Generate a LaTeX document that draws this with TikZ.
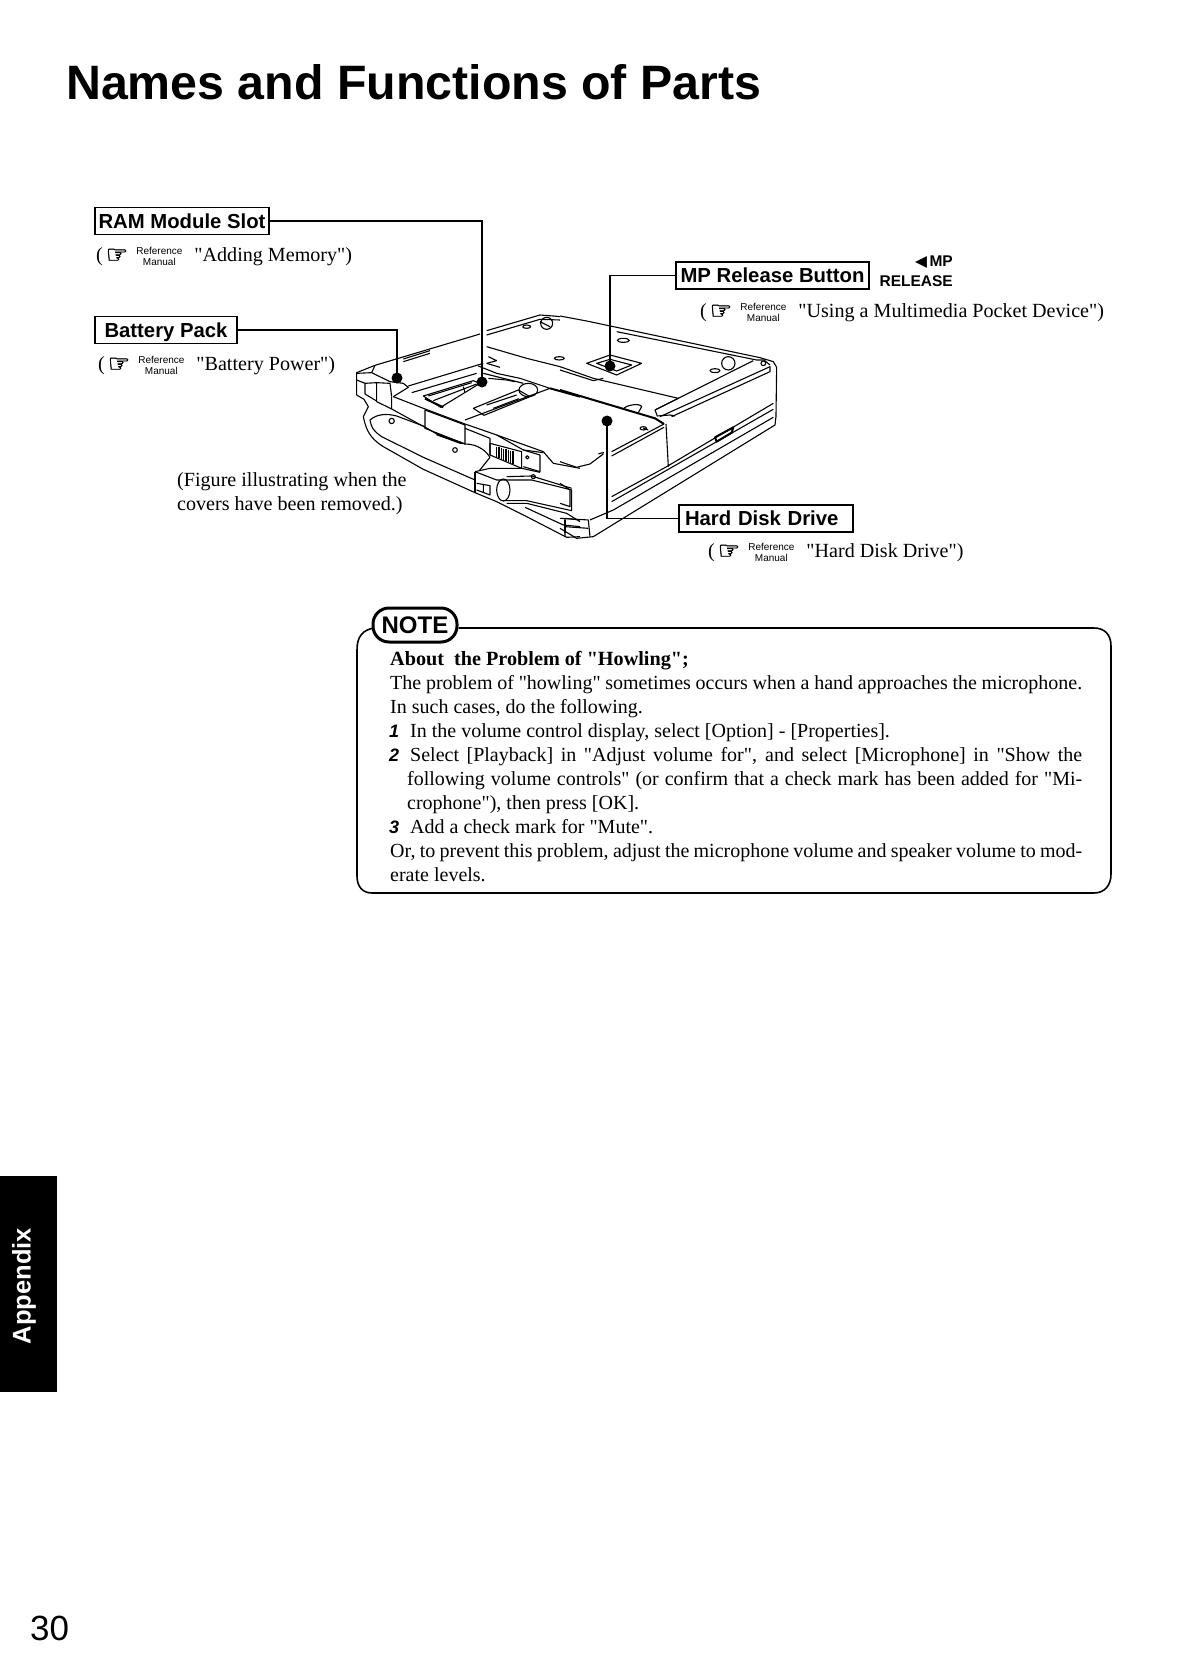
\documentclass[tikz,border=0pt]{standalone}
\usepackage{fontspec}
\newfontfamily\ser{Liberation Serif}
\newfontfamily\hei{Liberation Sans}
\newfontfamily\djvb[FakeBold=2]{DejaVu Sans}
\newfontfamily\djv{DejaVu Sans}
\newcommand{\refmark}{(\hspace{3pt}{\djvb\fontsize{25}{25}\selectfont\raisebox{-2pt}{☞}}\hspace{8pt}\raisebox{-4pt}{\hei\fontsize{10}{11.5}\selectfont\shortstack[c]{Reference\\Manual}}\hspace{12pt}}
\newcommand{\full}[2]{\makebox[#1pt][s]{#2}}
\tikzset{x=1pt,y=-1pt,
 lab/.style={draw=black,line width=1.3pt,font=\hei\bfseries\fontsize{20.3}{20.3}\selectfont,minimum height=27pt,inner xsep=2pt,inner ysep=0pt,text height=15pt,text depth=1pt},
 txt/.style={anchor=base west,inner sep=0pt,font=\ser\fontsize{20.1}{22}\selectfont},
 notetxt/.style={anchor=base west,inner sep=0pt,font=\ser\fontsize{20}{22}\selectfont},
 num/.style={anchor=base west,inner sep=0pt,font=\hei\bfseries\itshape\fontsize{18}{22}\selectfont},
 conn/.style={line width=1.8pt,black},
 dotm/.style={circle,fill=black,minimum size=11pt,inner sep=0pt},
 lp/.style={line width=1.1pt,black,line join=round},
 lpt/.style={line width=2pt,black,line join=round},
}
\begin{document}
\begin{tikzpicture}
\useasboundingbox (0,0) rectangle (1178,1672);
\fill[white] (0,0) rectangle (1178,1672);
\node[anchor=base west,inner sep=0pt,font=\hei\bfseries\fontsize{48.3}{48}\selectfont] (title) at (66,100) {Names and Functions of Parts};

% laptop: top, traced in the 320,290 crop
\begin{scope}[shift={(320,290)},x=.3333pt,y=-.3333pt]
\draw[lp] (165,226) -- (480,132);
\draw[lp] (250,207) -- (330,182) (250,215) -- (330,190);
\draw[lp] (500,122) -- (660,75) -- (700,78) -- (720,80);
\draw[lp] (500,135) -- (660,88) -- (720,90);
\draw[lp] (660,95) -- (690,110) (680,100) circle[radius=18];
\draw[lp] (620,110) ellipse[x radius=12,y radius=5] (718,205) ellipse[x radius=15,y radius=5];
\draw[lp] (500,170) -- (620,205) -- (720,230);
\draw[lp] (500,220) -- (540,232);
\end{scope}

% laptop: left and front, traced in the 340,340 crop
\begin{scope}[shift={(340,340)},x=.3333pt,y=-.3333pt]
% outer left contour
\draw[lp] (105,76) -- (50,98) -- (50,165) -- (72,178) -- (85,200) -- (70,230) .. controls (78,270) and (90,295) .. (130,320) -- (250,388) -- (405,458) -- (470,485) -- (560,530) -- (680,592) -- (720,590);
\draw[lp] (50,120) -- (75,130) -- (75,162) -- (108,182);
\draw[lp] (75,130) -- (110,128) -- (110,185) -- (155,207) -- (155,170);
\draw[lp] (50,100) -- (95,98) -- (150,125) -- (190,130) -- (205,142) -- (160,170);
\draw[lp] (110,128) -- (150,130) -- (155,170);
\draw[lp] (95,98) -- (105,76);
% upper strip
\draw[lp] (160,170) -- (250,205) -- (375,252) -- (450,278) -- (470,285) -- (610,335) -- (640,370) -- (720,385);
\draw[lp] (155,207) -- (255,262);
\draw[lp] (375,265) -- (450,295) -- (450,345);
% RAM area
\draw[lp] (205,138) -- (430,70);
\draw[lp] (215,158) -- (410,100);
\draw[lp] (250,168) -- (400,122) -- (420,130) -- (302,202) -- cycle;
\draw[lp] (265,168) -- (395,128) (280,182) -- (410,132);
\draw[lpt] (255,176) -- (310,202);
\draw[lp] (370,140) -- (375,158);
\draw[lp] (400,205) -- (535,150) -- (570,170) -- (432,226) -- cycle;
\draw[lp] (440,195) -- (530,165) (460,205) -- (537,176);
\draw[lp] (565,150) ellipse[x radius=28,y radius=20];
\draw[lp] (375,240) -- (630,145) -- (540,115) -- (470,100) -- (415,78);
\draw[lp] (430,100) -- (550,130);
\draw[lp] (445,50) -- (470,62) -- (440,70);
\draw[lp] (445,115) -- (500,120) -- (525,125);
\draw[lpt] (630,145) -- (720,170);
% handle contour
\draw[lp] (90,240) .. controls (110,222) and (140,220) .. (170,228) -- (250,258) -- (290,282) -- (375,312) .. controls (415,312) and (440,335) .. (450,352) -- (418,392);
\draw[lp] (90,240) .. controls (95,265) and (100,272) .. (125,290) -- (250,352) -- (405,420);
\draw[lp] (155,243) circle[radius=8] (345,330) circle[radius=7];
% window
\draw[lp] (255,210) -- (375,255) -- (375,312) -- (255,265) -- cycle;
\draw[lpt] (290,283) -- (365,310);
% vent
\draw[lp] (450,310) -- (545,335) -- (545,385) -- (450,345) -- cycle;
\foreach \i in {0,...,7} \draw[lp] ({470+\i*7},{320+\i*2}) -- ({470+\i*7},{352+\i*3});
\draw[lp] (470,285) -- (550,330) -- (600,345) -- (600,395) -- (550,380);
\draw[lp] (550,330) -- (610,338) (562,352) circle[radius=5];
% lever
\draw[lp] (405,395) -- (450,385) -- (545,385) -- (600,397);
\draw[lp] (405,395) -- (405,458);
\draw[lp] (410,430) -- (450,437) -- (450,465) -- (410,450) (430,433) -- (430,457);
\draw[lp] (405,395) -- (470,420) -- (490,420);
\draw[lp] (490,420) -- (575,420) -- (695,450) -- (695,512) -- (560,482) -- (490,482);
\draw[lp] (500,410) -- (575,408) -- (695,445);
\draw[lp] (580,410) circle[radius=6];
\draw[lp] (490,450) ellipse[x radius=20,y radius=33];
\draw[lp] (500,490) -- (560,490) -- (680,520) -- (720,545);
\draw[lp] (555,502) -- (670,555) -- (720,560);
\draw[lp] (675,535) -- (675,590) (675,535) -- (720,540);
\end{scope}

% laptop: right, traced in the 560,310 crop
\begin{scope}[shift={(560,310)},x=.3333pt,y=-.3333pt]
\draw[lp] (0,18) -- (80,33) -- (170,52) -- (600,143) -- (640,155) -- (650,172) -- (648,320) -- (645,345) -- (165,640) -- (100,680) -- (50,685) -- (0,655);
\draw[lp] (170,65) -- (590,150) -- (612,150) -- (630,165);
\draw[lp] (610,160) circle[radius=7];
\draw[lp] (285,300) -- (580,152);
\draw[lp] (300,320) -- (630,170) -- (630,185) -- (335,320);
\draw[lp] (285,300) -- (292,318) -- (330,315) -- (345,318);
\draw[lpt] (0,240) -- (285,325) -- (312,342);
\draw[lp] (0,170) -- (100,205) -- (355,265) -- (285,300);
\draw[lp] (0,180) -- (100,212) -- (130,205);
\draw[lp] (190,298) .. controls (195,285) and (240,278) .. (245,290) -- (235,308);
\draw[lp] (80,160) -- (150,135) -- (245,160) -- (170,195) -- cycle;
\draw[lp] (110,160) -- (150,148) -- (215,165) -- (170,183) -- cycle;
\draw[lp] (505,160) circle[radius=20] (465,182) ellipse[x radius=15,y radius=6];
\draw[lp] (190,91) ellipse[x radius=18,y radius=6];
\draw[lp] (318,342) -- (325,470);
\draw[lp] (312,342) -- (155,425) (312,352) -- (155,438);
\draw[lp] (250,355) -- (265,360) (250,355) ellipse[x radius=10,y radius=5];
\draw[lp] (640,280) -- (320,470) -- (155,560);
\draw[lp] (640,298) -- (155,575);
\draw[lp] (640,322) -- (160,600) -- (90,630);
\draw[lpt] (465,382) -- (520,352) -- (515,368) -- (470,395) -- cycle;
\draw[lp] (0,455) -- (50,472) -- (90,462) -- (130,432) (115,432) .. controls (120,430) and (125,428) .. (132,428);
\draw[lp] (0,520) -- (30,540) -- (30,590) -- (0,580);
\draw[lp] (0,625) -- (85,630) -- (90,680);
\draw[lp] (15,630) -- (15,670);
\draw[lp] (15,650) -- (85,655);
\end{scope}

% labels
\node[lab,minimum width=174pt] (ram) at (182,221) {RAM Module Slot};
\node[lab,minimum width=142pt] (bat) at (166,330) {Battery Pack};
\node[lab,minimum width=193pt] (mp) at (772.5,275.5) {MP Release Button};
\node[lab,text width=162pt,align=left,inner xsep=6pt] (hdd) at (766,518.5) {Hard Disk Drive};

\node[dotm] (ramdot) at (482,382) {};
\node[dotm] (batdot) at (397,378) {};
\node[dotm] (mpdot) at (610,366) {};
\node[dotm] (hdddot) at (607,421) {};
\draw[conn] (ram.east) -| (ramdot.center);
\draw[conn] (bat.east) -| (batdot.center);
\draw[conn] (mp.west) -| (mpdot.center);
\draw[conn] (hdd.west) -| (hdddot.center);

\node[txt] (t1) at (96,261) {\refmark"Adding Memory")};
\node[txt] (t2) at (98,370) {\refmark"Battery Power")};
\node[txt] (t3) at (700,317) {\refmark"Using a Multimedia Pocket Device")};
\node[txt] (t4) at (708,557) {\refmark"Hard Disk Drive")};
\node[txt] (c1) at (177,486) {(Figure illustrating when the};
\node[txt] (c2) at (177,510) {covers have been removed.)};
\node[anchor=base east,inner sep=0pt,font=\hei\bfseries\fontsize{15.5}{15.5}\selectfont] (mp1) at (953,266) {{\djv ◀}\,MP};
\node[anchor=base east,inner sep=0pt,font=\hei\bfseries\fontsize{15.5}{15.5}\selectfont] (mp2) at (953,286) {RELEASE};

% note
\node[draw=black,line width=3pt,rounded corners=16pt,minimum width=84pt,minimum height=34pt,inner sep=0pt,font=\hei\bfseries\fontsize{24}{24}\selectfont] (note) at (415,625) {NOTE};
\draw[line width=1.6pt,black] (note.east) ++(0,3) -- (1094,628) .. controls (1104,628) and (1111,634) .. (1111,646) -- (1111,874) .. controls (1111,886) and (1104,893) .. (1094,893) -- (372,893) .. controls (363,893) and (357,887) .. (357,876) -- (357,650) .. controls (357,636) and (363,630) .. (374,628);
\node[anchor=base west,inner sep=0pt,font=\ser\bfseries\fontsize{20.2}{22}\selectfont] (n1) at (390,665) {About\ \ the Problem of "Howling";};
\node[notetxt] (n2) at (390,689) {\full{692}{The problem of "howling" sometimes occurs when a hand approaches the microphone.}};
\node[notetxt] (n3) at (390,713) {In such cases, do the following.};
\node[num] (k1) at (389,737) {1};
\node[notetxt] (n4) at (410,737) {In the volume control display, select [Option] - [Properties].};
\node[num] (k2) at (389,761) {2};
\node[notetxt] (n5) at (410,761) {\full{672}{Select [Playback] in "Adjust volume for", and select [Microphone] in "Show the}};
\node[notetxt] (n6) at (407,785) {\full{675}{following volume controls" (or confirm that a check mark has been added for "Mi-}};
\node[notetxt] (n7) at (407,809) {crophone"), then press [OK].};
\node[num] (k3) at (389,833) {3};
\node[notetxt] (n8) at (410,833) {Add a check mark for "Mute".};
\node[notetxt] (n9) at (390,857) {\full{692}{Or, to prevent this problem, adjust the microphone volume and speaker volume to mod-}};
\node[notetxt] (n10) at (390,881) {erate levels.};

% tab
\fill[black] (0,1176) rectangle (57,1392);
\node[rotate=90,text=white,inner sep=0pt,font=\hei\bfseries\fontsize{25.5}{26}\selectfont] (tab) at (24,1286) {Appendix};
\node[anchor=base west,inner sep=0pt,font=\hei\fontsize{35}{35}\selectfont] (page) at (30,1640) {30};
\end{tikzpicture}
\end{document}
